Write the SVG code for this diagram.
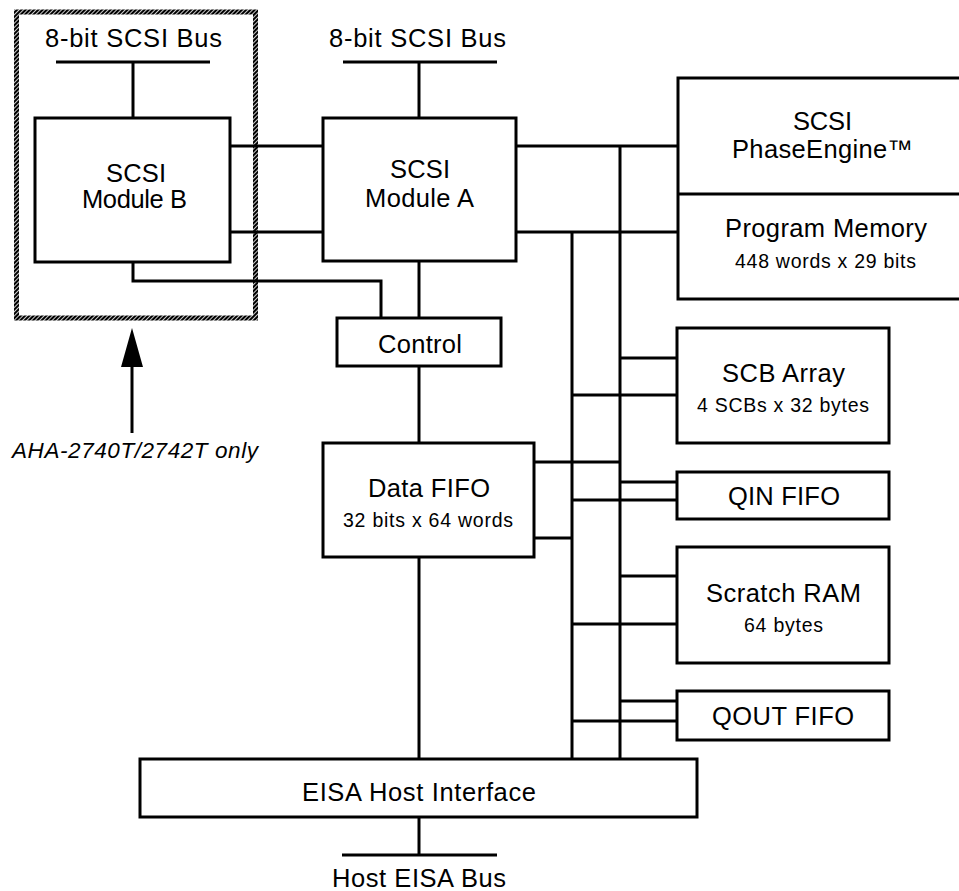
<svg xmlns="http://www.w3.org/2000/svg" width="959" height="891" viewBox="0 0 959 891">
<style>
.box{fill:#fff;stroke:#000;stroke-width:3}
.ln{fill:none;stroke:#000;stroke-width:3}
.t{font-family:"Liberation Sans",Arial,Helvetica,sans-serif;font-size:25.5px;fill:#000}
.s{font-family:"Liberation Sans",Arial,Helvetica,sans-serif;font-size:19.5px;fill:#000}
.i{font-family:"Liberation Sans",Arial,Helvetica,sans-serif;font-size:22.5px;font-style:italic;fill:#000}
</style>
<defs>
<pattern id="hatch" width="3" height="3" patternUnits="userSpaceOnUse" patternTransform="rotate(45)">
<rect width="2.2" height="3" fill="#000"/>
</pattern>
</defs>
<rect width="959" height="891" fill="#fff"/>
<g id="connectors">
<line class="ln" x1="56" y1="62" x2="210" y2="62"/>
<line class="ln" x1="133" y1="62" x2="133" y2="118"/>
<line class="ln" x1="343" y1="62" x2="497" y2="62"/>
<line class="ln" x1="419" y1="62" x2="419" y2="118"/>
<line class="ln" x1="230" y1="146" x2="323" y2="146"/>
<line class="ln" x1="230" y1="232" x2="323" y2="232"/>
<line class="ln" x1="516" y1="146" x2="678" y2="146"/>
<line class="ln" x1="516" y1="232" x2="678" y2="232"/>
<line class="ln" x1="620" y1="146" x2="620" y2="759"/>
<line class="ln" x1="572" y1="232" x2="572" y2="759"/>
<polyline class="ln" points="133,262 133,281 381,281 381,318"/>
<line class="ln" x1="419" y1="261" x2="419" y2="318"/>
<line class="ln" x1="419" y1="366" x2="419" y2="443"/>
<line class="ln" x1="419" y1="557" x2="419" y2="759"/>
<line class="ln" x1="534" y1="462" x2="620" y2="462"/>
<line class="ln" x1="534" y1="538" x2="572" y2="538"/>
<line class="ln" x1="620" y1="358" x2="677" y2="358"/>
<line class="ln" x1="572" y1="395" x2="677" y2="395"/>
<line class="ln" x1="620" y1="482" x2="677" y2="482"/>
<line class="ln" x1="572" y1="500" x2="677" y2="500"/>
<line class="ln" x1="620" y1="576" x2="677" y2="576"/>
<line class="ln" x1="572" y1="624" x2="677" y2="624"/>
<line class="ln" x1="620" y1="701" x2="677" y2="701"/>
<line class="ln" x1="572" y1="721" x2="677" y2="721"/>
<line class="ln" x1="419" y1="817" x2="419" y2="855"/>
<line class="ln" x1="342" y1="855" x2="497" y2="855"/>
<line class="ln" x1="132" y1="365" x2="132" y2="433"/>
<polygon points="132,328 121,367 143,367" fill="#000"/>
</g>
<g id="option-region">
<rect x="16.5" y="12" width="239" height="306" fill="none" stroke="url(#hatch)" stroke-width="5"/>
<text class="i" x="12" y="458" textLength="246" lengthAdjust="spacing">AHA-2740T/2742T only</text>
</g>
<g id="bus-b-label"><text class="t" x="45" y="47" textLength="177" lengthAdjust="spacing">8-bit SCSI Bus</text></g>
<g id="bus-a-label"><text class="t" x="329" y="47" textLength="177" lengthAdjust="spacing">8-bit SCSI Bus</text></g>
<g id="module-b">
<rect class="box" x="35" y="118" width="195" height="144"/>
<text class="t" x="106" y="182" textLength="60" lengthAdjust="spacing">SCSI</text>
<text class="t" x="82" y="208" textLength="105" lengthAdjust="spacing">Module B</text>
</g>
<g id="module-a">
<rect class="box" x="323" y="118" width="193" height="143"/>
<text class="t" x="390" y="178" textLength="60" lengthAdjust="spacing">SCSI</text>
<text class="t" x="365" y="207" textLength="109" lengthAdjust="spacing">Module A</text>
</g>
<g id="control">
<rect class="box" x="337" y="318" width="164" height="48"/>
<text class="t" x="378" y="353" textLength="84" lengthAdjust="spacing">Control</text>
</g>
<g id="data-fifo">
<rect class="box" x="323" y="443" width="211" height="114"/>
<text class="t" x="368" y="497" textLength="122" lengthAdjust="spacing">Data FIFO</text>
<text class="s" x="343" y="527" textLength="170" lengthAdjust="spacing">32 bits x 64 words</text>
</g>
<g id="phase-engine">
<rect class="box" x="678" y="78" width="295" height="221"/>
<line class="ln" x1="678" y1="194" x2="973" y2="194"/>
<text class="t" x="793" y="130" textLength="59" lengthAdjust="spacing">SCSI</text>
<text class="t" x="732" y="158" textLength="181" lengthAdjust="spacing">PhaseEngine™</text>
</g>
<g id="program-memory">
<text class="t" x="725" y="237" textLength="202" lengthAdjust="spacing">Program Memory</text>
<text class="s" x="735" y="268" textLength="181" lengthAdjust="spacing">448 words x 29 bits</text>
</g>
<g id="scb-array">
<rect class="box" x="677" y="328" width="212" height="115"/>
<text class="t" x="722" y="382" textLength="123" lengthAdjust="spacing">SCB Array</text>
<text class="s" x="697" y="412" textLength="172" lengthAdjust="spacing">4 SCBs x 32 bytes</text>
</g>
<g id="qin-fifo">
<rect class="box" x="677" y="472" width="212" height="47"/>
<text class="t" x="728" y="505" textLength="112" lengthAdjust="spacing">QIN FIFO</text>
</g>
<g id="scratch-ram">
<rect class="box" x="677" y="547" width="212" height="116"/>
<text class="t" x="706" y="602" textLength="155" lengthAdjust="spacing">Scratch RAM</text>
<text class="s" x="744" y="632" textLength="79" lengthAdjust="spacing">64 bytes</text>
</g>
<g id="qout-fifo">
<rect class="box" x="677" y="691" width="212" height="49"/>
<text class="t" x="712" y="725" textLength="142" lengthAdjust="spacing">QOUT FIFO</text>
</g>
<g id="eisa-host-interface">
<rect class="box" x="140" y="759" width="557" height="58"/>
<text class="t" x="302" y="801" textLength="234" lengthAdjust="spacing">EISA Host Interface</text>
</g>
<g id="host-eisa-bus"><text class="t" x="332" y="887" textLength="174" lengthAdjust="spacing">Host EISA Bus</text></g>
</svg>
